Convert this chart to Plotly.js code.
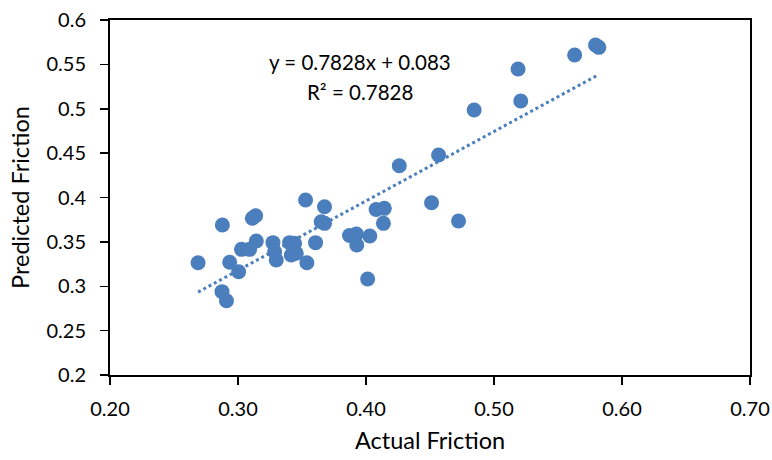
<!DOCTYPE html>
<html>
<head>
<meta charset="utf-8">
<script src="https://cdn.plot.ly/plotly-3.0.1.min.js"></script>
<style>html,body{margin:0;padding:0;background:#fff;}#chart{width:772px;height:460px;}</style>
</head>
<body>
<div id="chart"></div>
<script>
const actualFriction = [0.2688,0.2878,0.2875,0.2910,0.2935,0.3005,0.3027,0.3091,0.3112,0.3138,
  0.3143,0.3273,0.3286,0.3299,0.3403,0.3442,0.3416,0.3455,0.3528,0.3538,
  0.3606,0.3650,0.3676,0.3676,0.3871,0.3925,0.3928,0.4030,0.4013,0.4079,
  0.4143,0.4136,0.4260,0.4512,0.4567,0.4723,0.4845,0.5188,0.5209,0.5630,
  0.5793,0.5819];
const predictedFriction = [0.3265,0.3690,0.2939,0.2837,0.3270,0.3164,0.3416,0.3416,0.3766,0.3795,
  0.3510,0.3491,0.3389,0.3296,0.3491,0.3484,0.3352,0.3371,0.3972,0.3265,
  0.3491,0.3727,0.3896,0.3709,0.3572,0.3589,0.3465,0.3566,0.3082,0.3865,
  0.3878,0.3709,0.4358,0.3941,0.4479,0.3735,0.4986,0.5448,0.5087,0.5606,
  0.5718,0.5692];
const trendSlope = 0.7828;
const trendIntercept = 0.083;
const rSquared = 0.7828;
const xTickVals = [0.2,0.3,0.4,0.5,0.6,0.7];
const xTickText = ['0.20','0.30','0.40','0.50','0.60','0.70'];
const yTickVals = [0.2,0.25,0.3,0.35,0.4,0.45,0.5,0.55,0.6];
const yTickText = ['0.2','0.25','0.3','0.35','0.4','0.45','0.5','0.55','0.6'];

const col = '#4b7ebc';
const xMin = Math.min(...actualFriction), xMax = Math.max(...actualFriction);
const trendX = [xMin, xMax];
const trendY = trendX.map(v => trendSlope * v + trendIntercept);
const FONT = 'Lato, "Open Sans", sans-serif';

const data = [
  {x: trendX, y: trendY, mode: 'lines', type: 'scatter',
   line: {color: col, width: 3, dash: 'dot'}, hoverinfo: 'skip'},
  {x: actualFriction, y: predictedFriction, mode: 'markers', type: 'scatter',
   marker: {color: col, size: 15}}
];
const axisCommon = {
  showgrid: false, zeroline: false, showline: true, linecolor: '#000', linewidth: 2,
  mirror: true, ticks: 'outside', ticklen: 8, tickwidth: 1.5, tickcolor: '#000',
  tickfont: {family: FONT, size: 20, color: '#000'}
};
const layout = {
  width: 772, height: 460,
  margin: {l: 110, r: 22, t: 20, b: 85},
  paper_bgcolor: '#fff', plot_bgcolor: '#fff',
  showlegend: false,
  font: {family: FONT, color: '#000'},
  xaxis: Object.assign({}, axisCommon, {
    range: [0.2, 0.7], tickvals: xTickVals, ticktext: xTickText, ticklabelstandoff: 7,
    title: {text: 'Actual Friction', font: {family: FONT, size: 23.5, color: '#000'}, standoff: 14}
  }),
  yaxis: Object.assign({}, axisCommon, {
    range: [0.2, 0.6], tickvals: yTickVals, ticktext: yTickText, ticklabelstandoff: 10,
    title: {text: 'Predicted Friction', font: {family: FONT, size: 23.5, color: '#000'}, standoff: 10}
  }),
  annotations: [
    {xref: 'paper', yref: 'paper', x: 0.391, y: 0.8817, xanchor: 'center', yanchor: 'middle',
     showarrow: false,
     text: 'y = ' + trendSlope.toFixed(4) + 'x + ' + trendIntercept.toFixed(3),
     font: {family: FONT, size: 20.5, color: '#000'}},
    {xref: 'paper', yref: 'paper', x: 0.391, y: 0.797, xanchor: 'center', yanchor: 'middle',
     showarrow: false,
     text: 'R² = ' + rSquared.toFixed(4),
     font: {family: FONT, size: 20.5, color: '#000'}}
  ]
};
Plotly.newPlot('chart', data, layout, {displayModeBar: false, staticPlot: true});
</script>
</body>
</html>
